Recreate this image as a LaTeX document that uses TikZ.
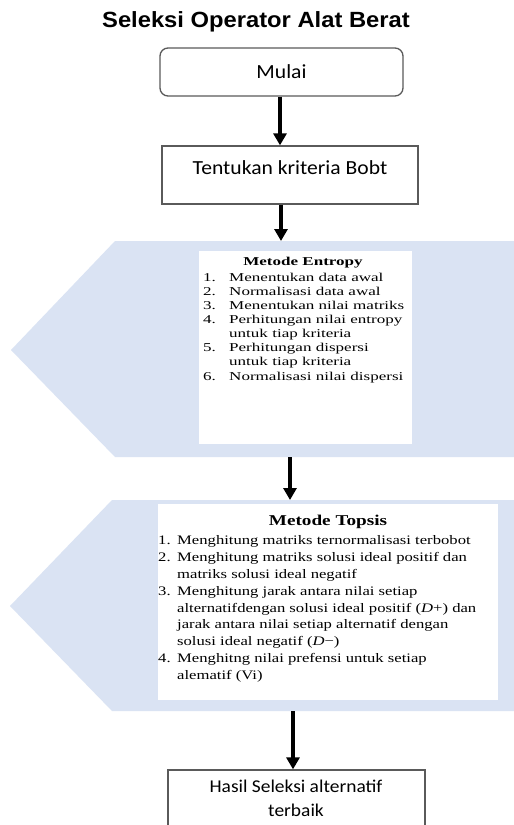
\documentclass[tikz,border=0pt]{standalone}
\usepackage{fontspec}
\setmainfont{Liberation Serif}
\newfontfamily\calib[FakeStretch=1.08]{Carlito}
\newfontfamily\arialb[FakeStretch=1.08]{Liberation Sans}
\newfontfamily\entfont[FakeStretch=1.42]{Liberation Serif}
\newfontfamily\topfont[FakeStretch=1.28]{Liberation Serif}
\usetikzlibrary{arrows.meta}
\definecolor{panelblue}{RGB}{218,227,243}
\definecolor{boxgray}{RGB}{90,90,90}
\tikzset{
  arr/.style={line width=3.5pt,-{Triangle[width=13pt,length=12pt]}},
  flowbox/.style={draw=boxgray,line width=1.3pt,fill=white,inner sep=0pt},
  whitebox/.style={fill=white,draw=none,inner sep=0pt},
  panel/.style={fill=panelblue,draw=none},
  enttxt/.style={font=\entfont\fontsize{12}{13}\selectfont,anchor=base west,inner sep=0pt},
  toptxt/.style={font=\topfont\fontsize{13}{15}\selectfont,anchor=base west,inner sep=0pt},
}
\begin{document}
\begin{tikzpicture}[x=1pt,y=-1pt]
\useasboundingbox (0,0) rectangle (514,825);
\clip (0,0) rectangle (514,825);
\fill[white] (0,0) rectangle (514,825);

% title
\node[font=\arialb\bfseries\fontsize{22}{24}\selectfont,inner sep=0pt] (title) at (256,22) {Seleksi Operator Alat Berat};

% start
\node[flowbox,rounded corners=8pt,minimum width=243pt,minimum height=48pt,font=\calib\fontsize{20}{22}\selectfont] (mulai) at (281.5,72) {Mulai};

% criteria box
\node[flowbox,minimum width=256pt,minimum height=58pt] (bobot) at (290,175) {};
\node[font=\calib\fontsize{20}{22}\selectfont,inner sep=0pt] (bobottext) at (290,168) {Tentukan kriteria Bobt};

% entropy panel
\path[panel] (514,241) -- (115,241) -- (11,350) -- (115,457) -- (514,457) -- cycle;
\coordinate (p1top) at (281,241);
\coordinate (p1bot) at (290,457);
\node[whitebox,minimum width=213pt,minimum height=193pt] (ent) at (305.5,347.5) {};
\node[font=\entfont\bfseries\fontsize{12}{13}\selectfont,inner sep=0pt] (enttitle) at (303,263) {Metode Entropy};
\foreach \y/\n/\t [count=\i] in {
  277/1./Menentukan data awal,
  291/2./Normalisasi data awal,
  305/3./Menentukan nilai matriks,
  319/4./Perhitungan nilai entropy,
  333.3//untuk tiap kriteria,
  347.7/5./Perhitungan dispersi,
  361.7//untuk tiap kriteria,
  376.7/6./Normalisasi nilai dispersi}{
  \node[enttxt] (en\i) at (203,\y+4) {\n};
  \node[enttxt] (et\i) at (229,\y+4) {\t};
}

% topsis panel
\path[panel] (514,500) -- (112,500) -- (10,606) -- (112,711) -- (514,711) -- cycle;
\coordinate (p2top) at (290,500);
\coordinate (p2bot) at (293,711);
\node[whitebox,minimum width=340pt,minimum height=196pt] (top) at (328,602) {};
\node[font=\topfont\bfseries\fontsize{15}{17}\selectfont,inner sep=0pt] (toptitle) at (328,522) {Metode Topsis};
\foreach \y/\n/\t [count=\i] in {
  540/1./Menghitung matriks ternormalisasi terbobot,
  557/2./Menghitung matriks solusi ideal positif dan,
  574//matriks solusi ideal negatif,
  591/3./Menghitung jarak antara nilai setiap,
  608//{alternatifdengan solusi ideal positif (\textit{D}+) dan},
  624.5//jarak antara nilai setiap alternatif dengan,
  641//{solusi ideal negatif (\textit{D}−)},
  658/4./Menghitng nilai prefensi untuk setiap,
  675//alematif (Vi)}{
  \node[toptxt] (tn\i) at (158,\y+4.3) {\n};
  \node[toptxt] (tt\i) at (177,\y+4.3) {\t};
}

% result box
\node[flowbox,minimum width=257pt,minimum height=80pt] (hasil) at (296.5,810) {};
\node[font=\calib\fontsize{18}{24}\selectfont,align=center,inner sep=0pt,anchor=north] (hasiltext) at (296,780) {Hasil Seleksi alternatif\\terbaik};

% connectors
\coordinate (c1) at (280,0);
\coordinate (c2) at (281,0);
\draw[arr] (mulai.south -| c1) -- (bobot.north -| c1);
\draw[arr] (bobot.south -| c2) -- (p1top);
\draw[arr] (p1bot) -- (p2top);
\draw[arr] (p2bot) -- (hasil.north -| p2bot);
\end{tikzpicture}
\end{document}
